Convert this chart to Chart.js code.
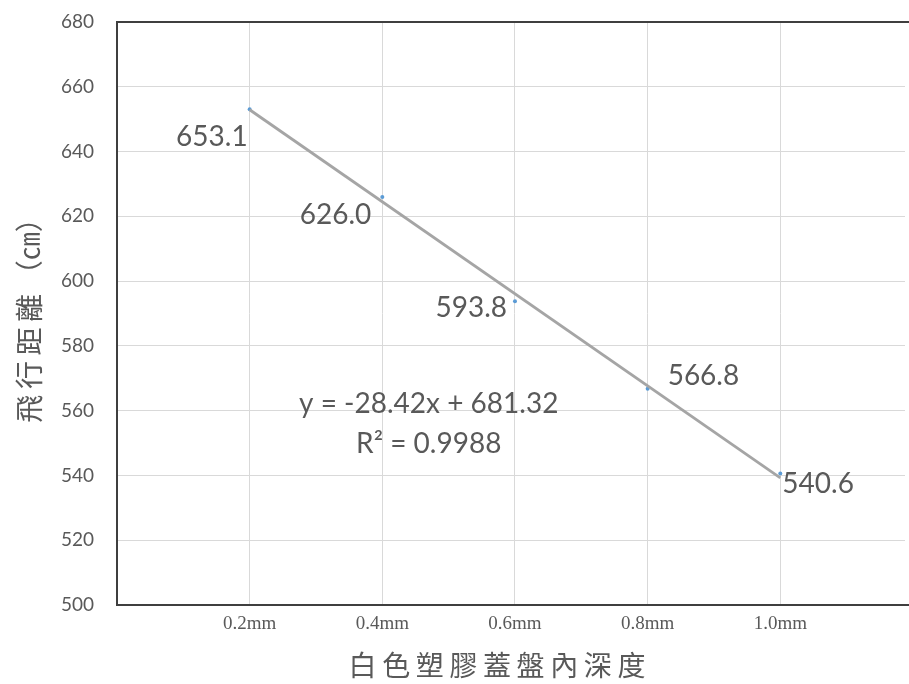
<!DOCTYPE html>
<html>
<head>
<meta charset="utf-8">
<script src="https://cdn.jsdelivr.net/npm/chart.js@4/dist/chart.umd.min.js"></script>
<style>
  html, body { margin: 0; padding: 0; background: #ffffff; overflow: hidden; }
  canvas { display: block; }
</style>
</head>
<body>
<canvas id="chart" width="909" height="684"></canvas>
<script>
// Flight distance vs. inner depth of the white plastic lid
const depthLabels = ['0.2mm', '0.4mm', '0.6mm', '0.8mm', '1.0mm'];
const depthIndex = [1, 2, 3, 4, 5];
const distances = [653.1, 626.0, 593.8, 566.8, 540.6];
const valueLabels = ['653.1', '626.0', '593.8', '566.8', '540.6'];

// Linear trendline y = slope * x + intercept, x = category index
const trendSlope = -28.42;
const trendIntercept = 681.32;
const trendR2 = '0.9988';

const yTicks = [500, 520, 540, 560, 580, 600, 620, 640, 660, 680];

const TEXT = '#595959';
const GRID = '#d9d9d9';
const AXIS = '#3f3f3f';

const pointData = depthIndex.map((x, i) => ({ x: x, y: distances[i] }));
const trendData = [depthIndex[0], depthIndex[depthIndex.length - 1]]
  .map(x => ({ x: x, y: trendSlope * x + trendIntercept }));

// Placement of each value label relative to its point
const labelPlacement = [
  { align: 'right', dx: -2, dy: 28 },
  { align: 'right', dx: -11, dy: 18 },
  { align: 'right', dx: -8, dy: 7 },
  { align: 'left', dx: 20, dy: -13 },
  { align: 'left', dx: 2, dy: 10 }
];

const frameBorder = {
  id: 'frameBorder',
  afterDatasetsDraw(chart) {
    const { ctx, chartArea: a } = chart;
    ctx.save();
    ctx.strokeStyle = AXIS;
    ctx.lineWidth = 2;
    ctx.beginPath();
    ctx.moveTo(a.right + 4, a.top);
    ctx.lineTo(a.left, a.top);
    ctx.lineTo(a.left, a.bottom);
    ctx.lineTo(a.right + 4, a.bottom);
    ctx.stroke();
    ctx.restore();
  }
};

const valueText = {
  id: 'valueText',
  afterDatasetsDraw(chart) {
    const { ctx } = chart;
    const meta = chart.getDatasetMeta(1);
    ctx.save();
    ctx.font = '28px Lato, "Open Sans", sans-serif';
    ctx.fillStyle = TEXT;
    ctx.textBaseline = 'middle';
    meta.data.forEach((pt, i) => {
      const p = labelPlacement[i];
      ctx.textAlign = p.align;
      ctx.fillText(valueLabels[i], pt.x + p.dx, pt.y + p.dy);
    });
    // trendline equation
    const xs = chart.scales.x, ys = chart.scales.y;
    const cx = xs.getPixelForValue(2.35);
    const cy = ys.getPixelForValue(562);
    ctx.textAlign = 'center';
    ctx.fillText('y = ' + trendSlope.toFixed(2) + 'x + ' + trendIntercept.toFixed(2), cx, cy);
    ctx.fillText('R\u00B2 = ' + trendR2, cx, cy + 40);
    ctx.restore();
  }
};

new Chart(document.getElementById('chart'), {
  type: 'scatter',
  data: {
    datasets: [
      {
        type: 'line',
        label: 'trend',
        data: trendData,
        borderColor: '#a5a5a5',
        borderWidth: 2.8,
        pointRadius: 0,
        fill: false,
        order: 1
      },
      {
        label: '飛行距離',
        data: pointData,
        backgroundColor: '#5b9bd5',
        borderColor: '#5b9bd5',
        pointRadius: 2,
        pointBorderWidth: 0,
        showLine: false,
        order: 2
      }
    ]
  },
  options: {
    responsive: false,
    animation: false,
    devicePixelRatio: 1,
    layout: { padding: { top: 22, left: 0, right: 0, bottom: 0 } },
    plugins: { legend: { display: false }, tooltip: { enabled: false } },
    scales: {
      x: {
        type: 'linear',
        min: 0,
        max: 5.94,
        afterBuildTicks: (s) => { s.ticks = depthIndex.map(v => ({ value: v })); },
        afterFit: (s) => { s.height = 79; s.paddingLeft = 0; s.paddingRight = 0; },
        grid: { color: GRID, lineWidth: 1, drawTicks: false },
        border: { display: false },
        ticks: {
          padding: 8,
          color: TEXT,
          font: { family: '"Liberation Serif", serif', size: 19 },
          callback: (v) => depthLabels[v - 1]
        },
        title: {
          display: true,
          text: '白\u2009色\u2009塑\u2009膠\u2009蓋\u2009盤\u2009內\u2009深\u2009度\u3000',
          color: TEXT,
          font: { family: '"Noto Sans CJK TC", sans-serif', size: 28 },
          padding: { top: 0, bottom: 2 }
        }
      },
      y: {
        min: 500,
        max: 680,
        afterBuildTicks: (s) => { s.ticks = yTicks.map(v => ({ value: v })); },
        afterFit: (s) => { s.width = 117; s.paddingTop = 0; s.paddingBottom = 0; },
        grid: { color: GRID, lineWidth: 1, drawTicks: false },
        border: { display: false },
        ticks: {
          padding: 23,
          color: TEXT,
          font: { family: 'Lato, "Open Sans", sans-serif', size: 19 }
        },
        title: {
          display: true,
          text: '飛\u2009行\u2009距\u2009離\u2009（㎝）',
          color: TEXT,
          font: { family: '"Noto Sans CJK TC", sans-serif', size: 28 },
          padding: { top: 13, bottom: 0 }
        }
      }
    }
  },
  plugins: [frameBorder, valueText]
});
</script>
</body>
</html>
